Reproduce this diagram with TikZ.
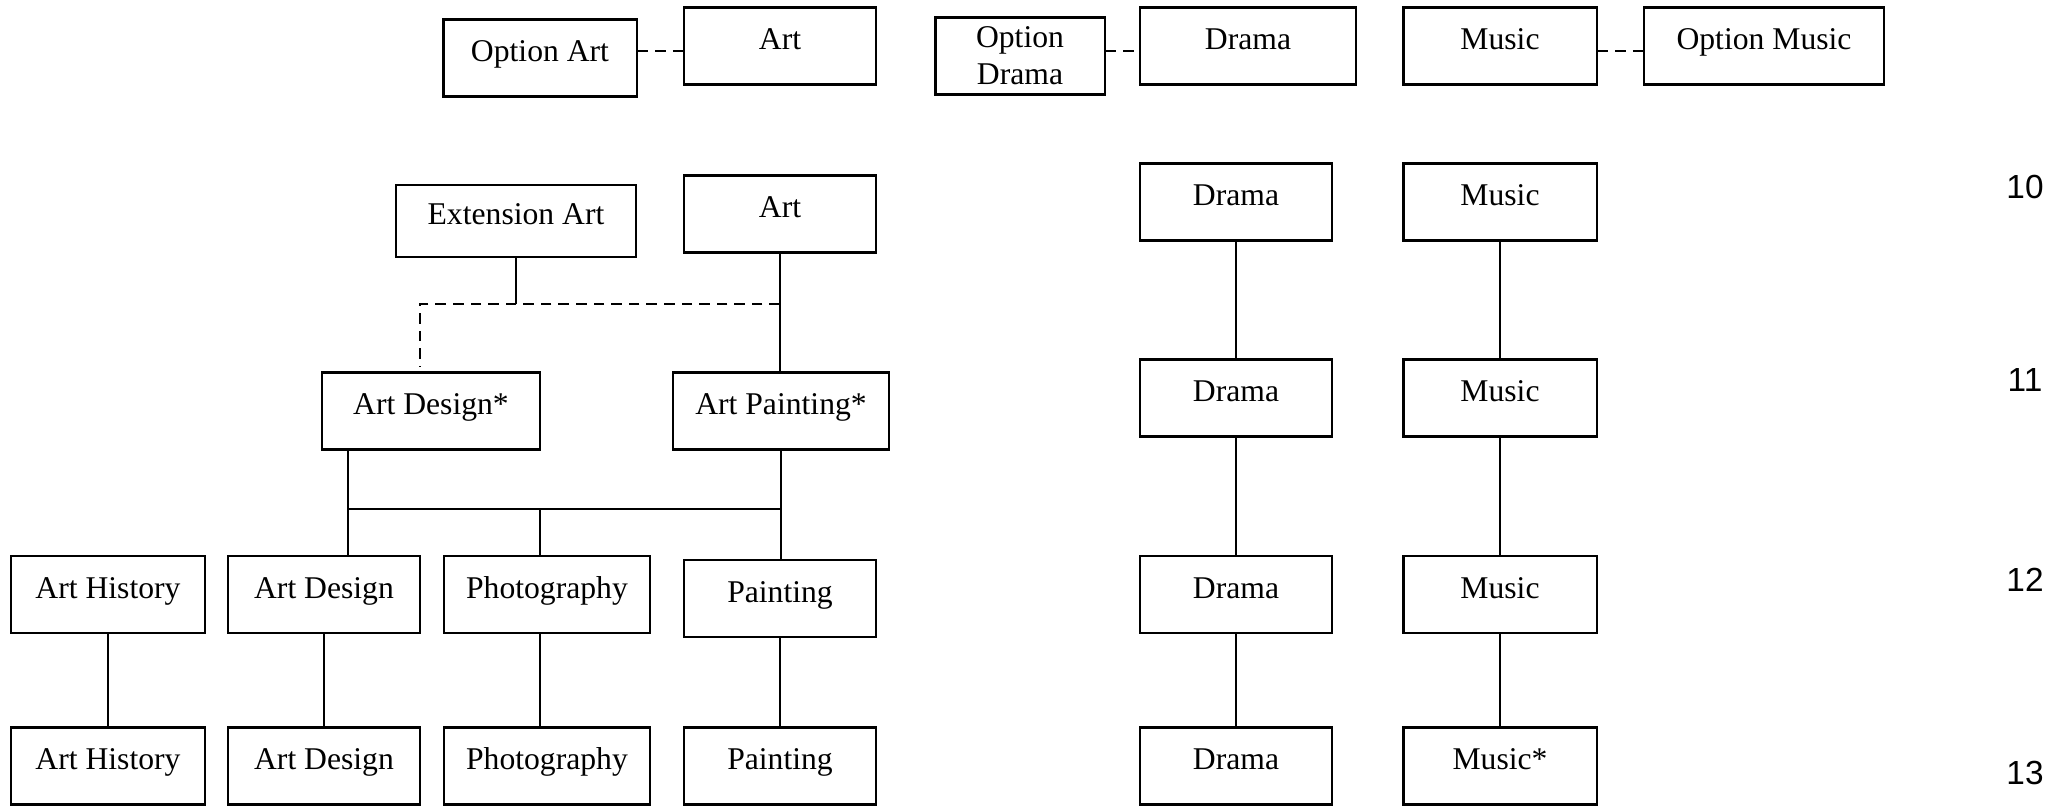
\documentclass[tikz,border=0pt]{standalone}
\usepackage{fontspec}
\setmainfont{Liberation Serif}
\setsansfont{Liberation Sans}
\usepackage{tikz}
\usetikzlibrary{positioning,calc}

\begin{document}
\begin{tikzpicture}[x=0.01cm,y=-0.01cm,
	box/.style={draw,line width=0.6pt,minimum height=0.77cm,inner sep=1pt,align=center,
		text height=6.5pt,text depth=4.5pt,font=\fontsize{9}{10.5}\selectfont},
	link/.style={line width=0.4pt},
	optlink/.style={line width=0.5pt,dash pattern=on 3pt off 2pt},
	year/.style={font=\sffamily\fontsize{9.5}{11}\selectfont}]
	\useasboundingbox (0,0) rectangle (2069,805);

	% options on top
	\node[box,minimum width=1.93cm] at (540,58) (OA) {Option Art};
	\node[box,minimum width=1.92cm] at (780,46) (A0) {Art};
	\node[box,minimum width=1.69cm,text height=,text depth=] at (1020,56) (OD) {Option\\Drama};
	\node[box,minimum width=2.16cm] at (1248,46) (D0) {Drama};
	\node[box,minimum width=1.93cm] at (1500,46) (M0) {Music};
	\node[box,minimum width=2.40cm] at (1764,46) (OM) {Option Music};
	\draw[optlink] (OA.east |- 0,51) -- (A0.west |- 0,51);
	\draw[optlink] (OD.east |- 0,51) -- (D0.west |- 0,51);
	\draw[optlink] (M0.east |- 0,51) -- (OM.west |- 0,51);

	% art
	\node[box,minimum width=2.40cm,minimum height=0.72cm] at (516,221) (EA) {Extension Art};
	\node[box,minimum width=1.92cm] at (780,214) (A10) {Art};
	\node[box,minimum width=2.17cm] at (431,411) (AD11) {Art Design*};
	\node[box,minimum width=2.16cm] at (781,411) (AP11) {Art Painting*};

	\coordinate (J1) at (780,304);
	\coordinate (J2) at (420,304);
	\draw[link] (EA.south) -- (EA.south |- J1);
	\draw[optlink] (J1) -- (J2) -- ($(J2 |- AD11.north)+(0,-4)$);
	\draw[link] (A10.south) -- (A10.south |- AP11.north);

	\node[box,minimum width=1.93cm] at (108,594.5) (AH12) {Art History};
	\node[box,minimum width=1.92cm] at (324,594.5) (AD12) {Art Design};
	\node[box,minimum width=2.06cm] at (547,594.5) (PH12) {Photography};
	\node[box,minimum width=1.92cm] at (780,598.5) (PA12) {Painting};

	\coordinate (J3) at (348,509);
	\coordinate (J4) at (780,509);
	\coordinate (J5) at (540,509);
	\draw[link] (J3 |- AD11.south) -- (J3 |- AD12.north);
	\draw[link] (J3) -- (J4);
	\draw[link] (AP11.south) -- (AP11.south |- PA12.north);
	\draw[link] (J5) -- (J5 |- PH12.north);

	\node[box,minimum width=1.93cm] at (108,766) (AH13) {Art History};
	\node[box,minimum width=1.92cm] at (324,766) (AD13) {Art Design};
	\node[box,minimum width=2.06cm] at (547,766) (PH13) {Photography};
	\node[box,minimum width=1.92cm] at (780,766) (PA13) {Painting};
	\draw[link] (AH12) -- (AH13);
	\draw[link] (AD12) -- (AD13);
	\draw[link] (540,0 |- PH12.south) -- (540,0 |- PH13.north);
	\draw[link] (PA12) -- (PA13);

	% drama and music
	\foreach \y/\n in {202/10,398/11,594.5/12,766/13}{
		\node[box,minimum width=1.92cm] at (1236,\y) (D\n) {Drama};
	}
	\foreach \y/\n in {202/10,398/11,594.5/12}{
		\node[box,minimum width=1.93cm] at (1500,\y) (M\n) {Music};
	}
	\node[box,minimum width=1.93cm] at (1500,766) (M13) {Music*};
	\foreach \a/\b in {10/11,11/12,12/13}{
		\draw[link] (D\a) -- (D\b);
		\draw[link] (M\a) -- (M\b);
	}

	% years
	\node[year] at (2025,187) (N10) {10};
	\node[year] at (2025,380) (N11) {11};
	\node[year] at (2025,580) (N12) {12};
	\node[year] at (2025,773) (N13) {13};
\end{tikzpicture}
\end{document}
